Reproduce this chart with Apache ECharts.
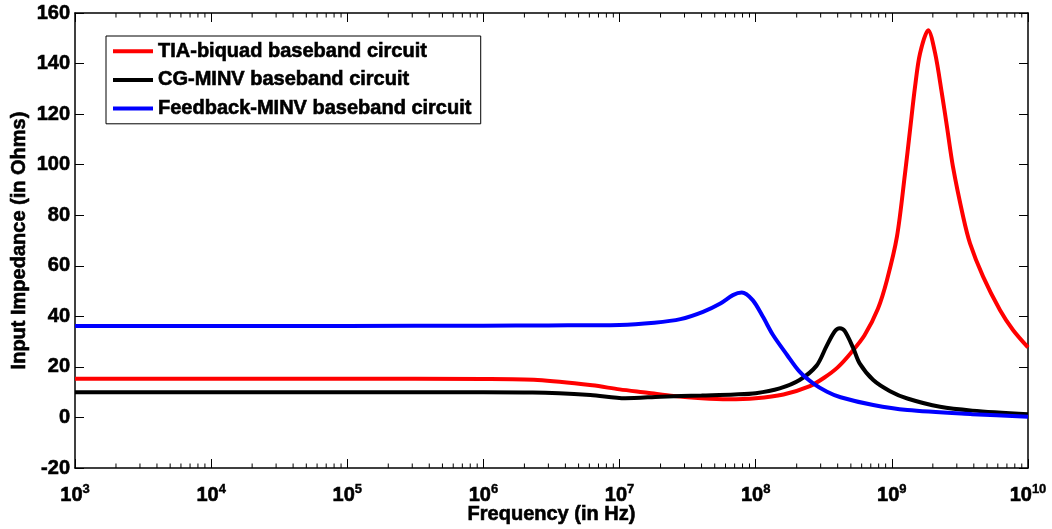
<!DOCTYPE html>
<html>
<head>
<meta charset="utf-8">
<script src="https://cdn.jsdelivr.net/npm/echarts@6/dist/echarts.min.js"></script>
<style>
  html, body { margin: 0; padding: 0; background: #fff; }
  #chart { width: 1052px; height: 529px; }
</style>
</head>
<body>
<div id="chart"></div>
<script>
// Input impedance versus frequency for three baseband circuits
const seriesNames = [
  'TIA-biquad baseband circuit',
  'CG-MINV baseband circuit',
  'Feedback-MINV baseband circuit'
];

// TIA-biquad (Hz, Ohms)
const tiaFreq = [1e3, 1e4, 1e5, 1e6, 2.5e6, 6.3e6, 1e7, 1.6e7, 2.5e7, 4e7, 6.3e7, 1e8,
  1.6e8, 2.5e8, 3.2e8, 4e8, 5e8, 6.3e8, 7.9e8, 9.2e8, 1.09e9, 1.25e9, 1.36e9, 1.48e9, 1.61e9,
  1.85e9, 2.08e9, 2.33e9, 2.54e9, 2.81e9, 3.34e9, 3.75e9, 4.68e9, 6.22e9, 7.76e9, 1e10];
const tiaZ = [15.3, 15.3, 15.3, 15.2, 14.8, 12.7, 11.1, 9.8, 8.5, 7.6, 7.2, 7.6,
  9.1, 12.4, 15.8, 19.8, 25.5, 32.5, 43, 54.3, 71.5, 96.6, 113.7, 130.8, 144,
  153.2, 144, 128.2, 115, 99.2, 79.4, 68.9, 55.7, 42.5, 34.6, 27.7];

// CG-MINV (Hz, Ohms)
const cgFreq = [1e3, 1e5, 1e6, 2.3e6, 6.1e6, 1.1e7, 2.0e7, 4e7, 7e7, 1e8, 1.5e8,
  2.1e8, 2.8e8, 3.3e8, 3.8e8, 4.15e8, 4.5e8, 5.2e8, 5.8e8, 7.3e8, 9.7e8, 1.3e9, 2.26e9, 3.9e9, 1e10];
const cgZ = [10.0, 10.0, 10.0, 9.9, 8.9, 7.6, 8.2, 8.7, 9.1, 9.6, 11.5,
  14.8, 20.5, 28, 34, 35.3, 34.2, 27.5, 21.4, 14.8, 10.4, 7.5, 4.2, 2.7, 1.3];

// Feedback-MINV (Hz, Ohms)
const fbFreq = [1e3, 1e5, 1e6, 3e6, 1e7, 1.8e7, 2.8e7, 4.1e7, 5.5e7, 6.8e7, 7.9e7, 9.5e7,
  1.13e8, 1.34e8, 1.7e8, 2.1e8, 2.64e8, 3.34e8, 4.2e8, 7.3e8, 1.3e9, 3.9e9, 1e10];
const fbZ = [36.2, 36.2, 36.3, 36.4, 36.6, 37.5, 38.9, 41.8, 45.1, 48.4, 49.4, 46.4,
  39.8, 32.6, 24.7, 18.1, 13.5, 10.2, 8.0, 4.9, 2.9, 1.3, 0.3];

const xMin = 1e3, xMax = 1e10;
const yMin = -20, yMax = 160, yStep = 20;

const FONT = '"Liberation Sans", Arial, Helvetica, sans-serif';
// heavy bold text
const heavy = { color: '#000', fontWeight: 'bold', fontFamily: FONT, textBorderColor: '#000', textBorderWidth: 0.6 };

function pairs(xs, ys) { return xs.map((x, i) => [x, ys[i]]); }

// minor log ticks at 2..9 within each decade
const minorTicks = [];
for (let e = 3; e < 10; e++) {
  for (let k = 2; k <= 9; k++) minorTicks.push([k * Math.pow(10, e), 0]);
}

const chart = echarts.init(document.getElementById('chart'), null, { renderer: 'canvas' });

const tickStyle = { show: true, inside: true, length: 9, lineStyle: { color: '#000', width: 1 } };
const lineAxis = { show: true, onZero: false, lineStyle: { color: '#000', width: 1.5 } };

function lineSeries(name, color, xs, ys) {
  return {
    name: name,
    type: 'line',
    xAxisIndex: 0,
    yAxisIndex: 0,
    data: pairs(xs, ys),
    showSymbol: false,
    symbol: 'none',
    smooth: 0.3,
    lineStyle: { color: color, width: 4 },
    itemStyle: { color: color },
    z: 3
  };
}

chart.setOption({
  animation: false,
  backgroundColor: '#fff',
  textStyle: { fontFamily: FONT },
  grid: { left: 75, right: 24, top: 13, bottom: 61, containLabel: false, outerBoundsMode: 'none' },
  legend: {
    data: seriesNames,
    orient: 'vertical',
    left: 106,
    top: 36,
    padding: [5, 9, 5, 7],
    itemGap: 8,
    icon: 'rect',
    itemWidth: 40,
    itemHeight: 4,
    borderColor: '#000',
    borderWidth: 1,
    backgroundColor: '#fff',
    textStyle: Object.assign({ fontSize: 20 }, heavy)
  },
  xAxis: [
    {
      type: 'log',
      logBase: 10,
      min: xMin,
      max: xMax,
      splitNumber: 7,
      position: 'bottom',
      axisLine: lineAxis,
      axisTick: tickStyle,
      splitLine: { show: false },
      name: 'Frequency (in Hz)',
      nameLocation: 'middle',
      nameGap: 36,
      nameMoveOverlap: false,
      nameTextStyle: Object.assign({ fontSize: 20 }, heavy),
      axisLabel: {
        margin: 15,
        formatter: function (v) {
          const e = Math.round(Math.log10(v));
          return '{b|10}{s|' + e + '}';
        },
        rich: {
          b: Object.assign({ fontSize: 20 }, heavy),
          s: Object.assign({ fontSize: 13, verticalAlign: 'top', padding: [0, 0, 12, 0] }, heavy, { textBorderWidth: 0.4 })
        }
      }
    },
    {
      type: 'log',
      logBase: 10,
      min: xMin,
      max: xMax,
      splitNumber: 7,
      position: 'top',
      axisLine: lineAxis,
      axisTick: tickStyle,
      axisLabel: { show: false },
      splitLine: { show: false }
    }
  ],
  yAxis: [
    {
      type: 'value',
      min: yMin,
      max: yMax,
      interval: yStep,
      position: 'left',
      axisLine: lineAxis,
      axisTick: tickStyle,
      splitLine: { show: false },
      axisLabel: Object.assign({ margin: 5, fontSize: 20 }, heavy),
      name: 'Input Impedance (in Ohms)',
      nameLocation: 'middle',
      nameGap: 46,
      nameMoveOverlap: false,
      nameRotate: 90,
      nameTextStyle: Object.assign({ fontSize: 20 }, heavy)
    },
    {
      type: 'value',
      min: yMin,
      max: yMax,
      interval: yStep,
      position: 'right',
      axisLine: lineAxis,
      axisTick: tickStyle,
      axisLabel: { show: false },
      splitLine: { show: false }
    }
  ],
  series: [
    lineSeries(seriesNames[0], '#ff0000', tiaFreq, tiaZ),
    lineSeries(seriesNames[1], '#000000', cgFreq, cgZ),
    lineSeries(seriesNames[2], '#0000ff', fbFreq, fbZ),
    {
      // minor ticks on the bottom and top frame edges
      type: 'custom',
      xAxisIndex: 0,
      yAxisIndex: 0,
      data: minorTicks,
      silent: true,
      clip: false,
      z: 4,
      renderItem: function (params, api) {
        const x = api.coord([api.value(0), 0])[0];
        const cs = params.coordSys;
        const yb = cs.y + cs.height;
        const yt = cs.y;
        return {
          type: 'group',
          children: [
            { type: 'line', shape: { x1: x, y1: yb, x2: x, y2: yb - 4.5 }, style: { stroke: '#000', lineWidth: 1 } },
            { type: 'line', shape: { x1: x, y1: yt, x2: x, y2: yt + 4.5 }, style: { stroke: '#000', lineWidth: 1 } }
          ]
        };
      }
    }
  ]
});
</script>
</body>
</html>
